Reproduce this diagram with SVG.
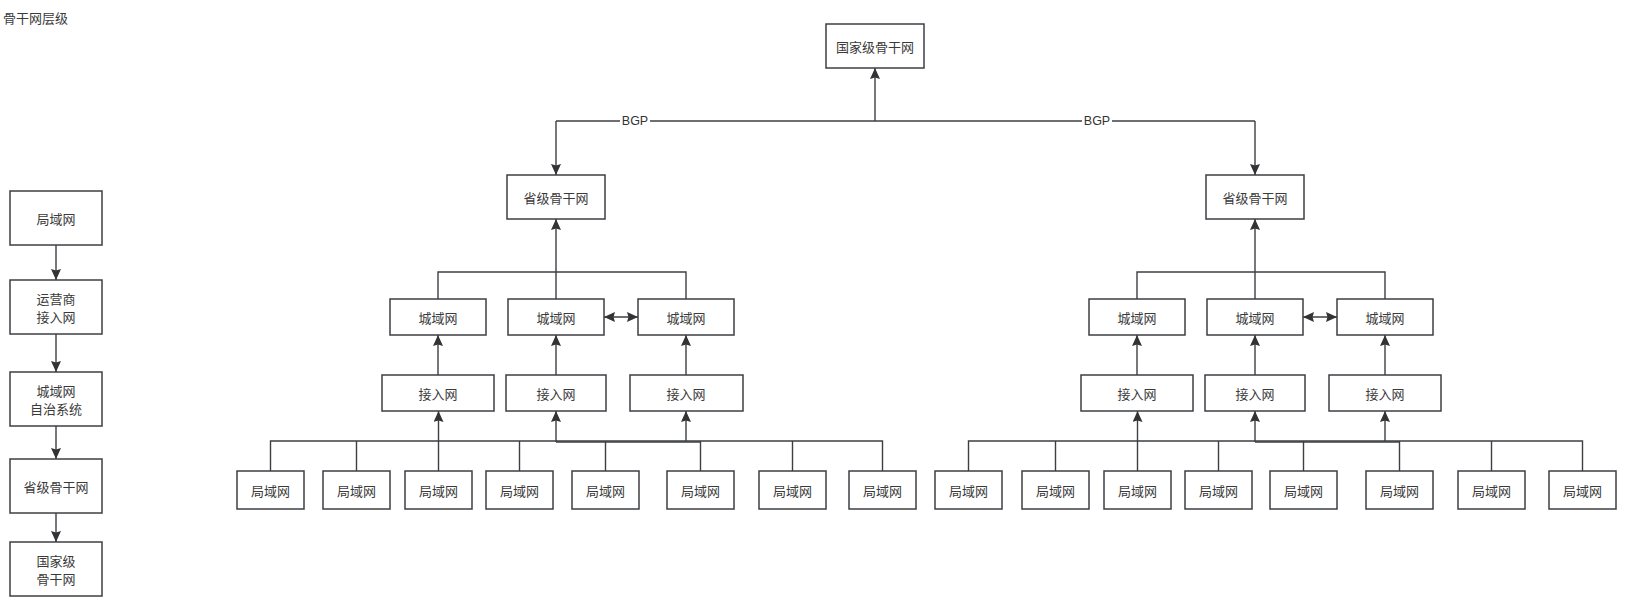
<svg xmlns="http://www.w3.org/2000/svg" width="1650" height="604" viewBox="0 0 1650 604">
<defs>
<marker id="arr" markerUnits="userSpaceOnUse" markerWidth="11" markerHeight="10" viewBox="0 0 11 10" refX="11" refY="5" orient="auto-start-reverse">
<path d="M0,0 L11,5 L0,10 L1.5,5 z" fill="#333"/>
</marker>
</defs>
<style>
.n rect{fill:#fff;stroke:#3c3f43;stroke-width:1.5}
text{font-family:"Noto Sans CJK SC","Noto Sans",sans-serif;font-size:13px;fill:#3a3a3a;text-anchor:middle;dominant-baseline:central}
.c path,.c line{fill:none;stroke:#3c3f43;stroke-width:1.4}
.a{marker-end:url(#arr)}
.d{marker-start:url(#arr);marker-end:url(#arr)}
.lbl{font-family:"Liberation Sans","Noto Sans",sans-serif;font-size:12.5px;fill:#333}
</style>
<rect width="1650" height="604" fill="#fff"/>
<text x="3" y="17" style="text-anchor:start">骨干网层级</text>

<g class="c" id="connectors">
<!-- left legend column -->
<line class="a" x1="56" y1="245" x2="56" y2="280"/>
<line class="a" x1="56" y1="334" x2="56" y2="372"/>
<line class="a" x1="56" y1="426" x2="56" y2="459"/>
<line class="a" x1="56" y1="513" x2="56" y2="542"/>
<!-- top -->
<path d="M556,121 H1255"/>
<line class="a" x1="875" y1="121" x2="875" y2="68"/>
<line class="a" x1="556" y1="121" x2="556" y2="175"/>
<line class="a" x1="1255" y1="121" x2="1255" y2="175"/>
<!-- left province -->
<path d="M438,299 V272 H686 V299"/>
<line x1="556" y1="299" x2="556" y2="272"/>
<line class="a" x1="556" y1="272" x2="556" y2="219"/>
<line class="d" x1="604" y1="317" x2="638" y2="317"/>
<line class="a" x1="438" y1="375" x2="438" y2="335"/>
<line class="a" x1="556" y1="375" x2="556" y2="335"/>
<line class="a" x1="686" y1="375" x2="686" y2="335"/>
<!-- right province -->
<path d="M1137,299 V272 H1385 V299"/>
<line x1="1255" y1="299" x2="1255" y2="272"/>
<line class="a" x1="1255" y1="272" x2="1255" y2="219"/>
<line class="d" x1="1303" y1="317" x2="1337" y2="317"/>
<line class="a" x1="1137" y1="375" x2="1137" y2="335"/>
<line class="a" x1="1255" y1="375" x2="1255" y2="335"/>
<line class="a" x1="1385" y1="375" x2="1385" y2="335"/>
<!-- left LAN bus -->
<path d="M270.5,471 V441 H882.5 V471"/>
<path d="M356.5,471 V441 M438.5,471 V441 M519.5,471 V441 M605.5,471 V441 M700.5,471 V441 M792.5,471 V441"/>
<path d="M556,442 H701"/>
<line class="a" x1="438.5" y1="441" x2="438.5" y2="411"/>
<line class="a" x1="556" y1="442" x2="556" y2="411"/>
<line class="a" x1="686" y1="441" x2="686" y2="411"/>
<!-- right LAN bus -->
<path d="M968.5,471 V441 H1582.5 V471"/>
<path d="M1055.5,471 V441 M1137.5,471 V441 M1218.5,471 V441 M1303.5,471 V441 M1399.5,471 V441 M1491.5,471 V441"/>
<path d="M1255,442 H1400"/>
<line class="a" x1="1137.5" y1="441" x2="1137.5" y2="411"/>
<line class="a" x1="1255" y1="442" x2="1255" y2="411"/>
<line class="a" x1="1385" y1="441" x2="1385" y2="411"/>
</g>
<g id="bgp-labels">
<rect x="620" y="113" width="30" height="16" fill="#fff"/>
<text class="lbl" x="635" y="121">BGP</text>
<rect x="1082" y="113" width="30" height="16" fill="#fff"/>
<text class="lbl" x="1097" y="121">BGP</text>
</g>

<!-- legend nodes -->
<g class="n" id="legend-lan"><rect x="10" y="191" width="92" height="54"/><text x="56" y="218">局域网</text></g>
<g class="n" id="legend-access"><rect x="10" y="280" width="92" height="54"/><text x="56" y="298">运营商</text><text x="56" y="316">接入网</text></g>
<g class="n" id="legend-metro"><rect x="10" y="372" width="92" height="54"/><text x="56" y="390">城域网</text><text x="56" y="408">自治系统</text></g>
<g class="n" id="legend-prov"><rect x="10" y="459" width="92" height="54"/><text x="56" y="486">省级骨干网</text></g>
<g class="n" id="legend-nat"><rect x="10" y="542" width="92" height="54"/><text x="56" y="560">国家级</text><text x="56" y="578">骨干网</text></g>

<!-- national -->
<g class="n" id="national"><rect x="826" y="24" width="98" height="44"/><text x="875" y="46">国家级骨干网</text></g>

<!-- left province -->
<g class="n" id="prov-l"><rect x="507" y="175" width="98" height="44"/><text x="556" y="197">省级骨干网</text></g>
<g class="n" id="metro-l1"><rect x="390" y="299" width="96" height="36"/><text x="438" y="317">城域网</text></g>
<g class="n" id="metro-l2"><rect x="508" y="299" width="96" height="36"/><text x="556" y="317">城域网</text></g>
<g class="n" id="metro-l3"><rect x="638" y="299" width="96" height="36"/><text x="686" y="317">城域网</text></g>
<g class="n" id="acc-l1"><rect x="382" y="375" width="112" height="36"/><text x="438" y="393">接入网</text></g>
<g class="n" id="acc-l2"><rect x="506" y="375" width="100" height="36"/><text x="556" y="393">接入网</text></g>
<g class="n" id="acc-l3"><rect x="630" y="375" width="113" height="36"/><text x="686" y="393">接入网</text></g>
<g class="n" id="lan-l1"><rect x="237" y="471" width="67" height="38"/><text x="270.5" y="490">局域网</text></g>
<g class="n" id="lan-l2"><rect x="323" y="471" width="67" height="38"/><text x="356.5" y="490">局域网</text></g>
<g class="n" id="lan-l3"><rect x="405" y="471" width="67" height="38"/><text x="438.5" y="490">局域网</text></g>
<g class="n" id="lan-l4"><rect x="486" y="471" width="67" height="38"/><text x="519.5" y="490">局域网</text></g>
<g class="n" id="lan-l5"><rect x="572" y="471" width="67" height="38"/><text x="605.5" y="490">局域网</text></g>
<g class="n" id="lan-l6"><rect x="667" y="471" width="67" height="38"/><text x="700.5" y="490">局域网</text></g>
<g class="n" id="lan-l7"><rect x="759" y="471" width="67" height="38"/><text x="792.5" y="490">局域网</text></g>
<g class="n" id="lan-l8"><rect x="849" y="471" width="67" height="38"/><text x="882.5" y="490">局域网</text></g>

<!-- right province -->
<g class="n" id="prov-r"><rect x="1206" y="175" width="98" height="44"/><text x="1255" y="197">省级骨干网</text></g>
<g class="n" id="metro-r1"><rect x="1089" y="299" width="96" height="36"/><text x="1137" y="317">城域网</text></g>
<g class="n" id="metro-r2"><rect x="1207" y="299" width="96" height="36"/><text x="1255" y="317">城域网</text></g>
<g class="n" id="metro-r3"><rect x="1337" y="299" width="96" height="36"/><text x="1385" y="317">城域网</text></g>
<g class="n" id="acc-r1"><rect x="1081" y="375" width="112" height="36"/><text x="1137" y="393">接入网</text></g>
<g class="n" id="acc-r2"><rect x="1205" y="375" width="100" height="36"/><text x="1255" y="393">接入网</text></g>
<g class="n" id="acc-r3"><rect x="1329" y="375" width="112" height="36"/><text x="1385" y="393">接入网</text></g>
<g class="n" id="lan-r1"><rect x="935" y="471" width="67" height="38"/><text x="968.5" y="490">局域网</text></g>
<g class="n" id="lan-r2"><rect x="1022" y="471" width="67" height="38"/><text x="1055.5" y="490">局域网</text></g>
<g class="n" id="lan-r3"><rect x="1104" y="471" width="67" height="38"/><text x="1137.5" y="490">局域网</text></g>
<g class="n" id="lan-r4"><rect x="1185" y="471" width="67" height="38"/><text x="1218.5" y="490">局域网</text></g>
<g class="n" id="lan-r5"><rect x="1270" y="471" width="67" height="38"/><text x="1303.5" y="490">局域网</text></g>
<g class="n" id="lan-r6"><rect x="1366" y="471" width="67" height="38"/><text x="1399.5" y="490">局域网</text></g>
<g class="n" id="lan-r7"><rect x="1458" y="471" width="67" height="38"/><text x="1491.5" y="490">局域网</text></g>
<g class="n" id="lan-r8"><rect x="1549" y="471" width="67" height="38"/><text x="1582.5" y="490">局域网</text></g>
</svg>
